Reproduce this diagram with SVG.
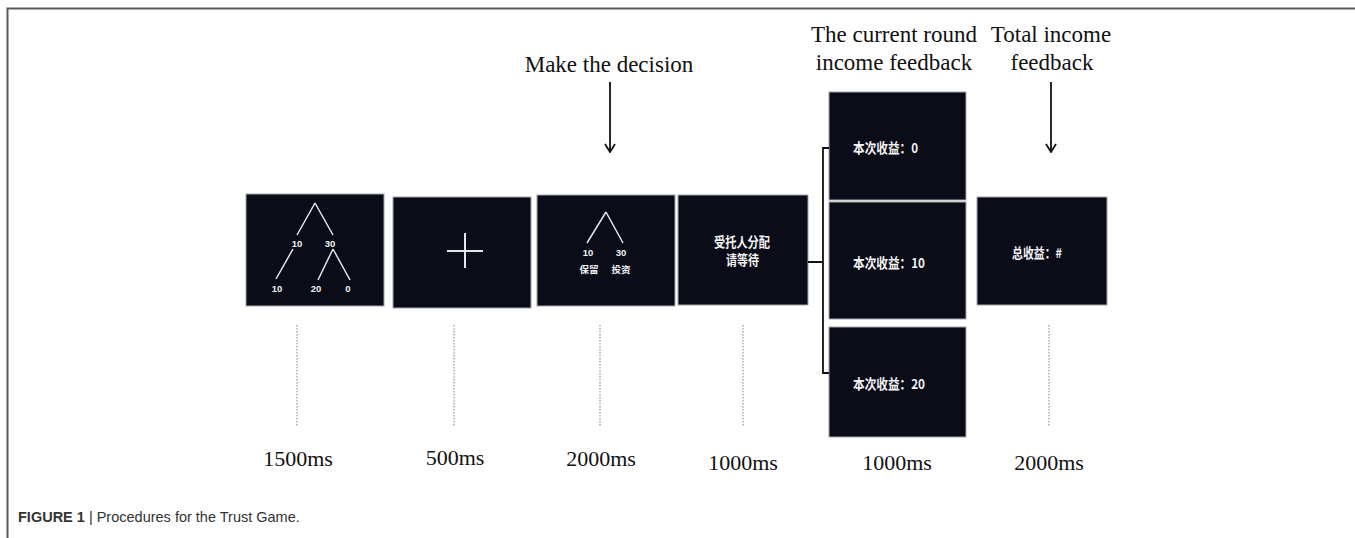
<svg xmlns="http://www.w3.org/2000/svg" width="1355" height="538" viewBox="0 0 1355 538">
<style>
.scr{fill:#0a0c17;stroke:#a4a6ad;stroke-width:1}
.tl{stroke:#e6e6e6;stroke-width:1.5;fill:none}
.num{font-family:"Liberation Sans","Noto Sans CJK SC",sans-serif;font-weight:bold;font-size:9.5px;fill:#f2f2f2;text-anchor:middle}
.cn{font-family:"Noto Sans CJK SC","Liberation Sans",sans-serif;font-weight:bold;font-size:13.5px;fill:#f4f4f4}
.lbl{font-family:"Liberation Serif",serif;font-size:23px;fill:#111;text-anchor:middle}
.ms{font-family:"Liberation Serif",serif;font-size:22px;fill:#111;text-anchor:middle}
.dot{stroke:#aaa;stroke-width:1.5;stroke-dasharray:1.5 1.5}
.conn{stroke:#111;stroke-width:1.8;fill:none}
</style>
<defs>
<marker id="ah" viewBox="0 0 10 12" refX="9" refY="6" markerWidth="10" markerHeight="12" markerUnits="userSpaceOnUse" orient="auto">
<polyline points="1,1 9,6 1,11" fill="none" stroke="#111" stroke-width="1.8"/>
</marker>
</defs>
<rect width="1355" height="538" fill="#fff"/>
<path d="M7.5 538 V8.5 H1355" fill="none" stroke="#5a5a5a" stroke-width="2"/>

<g id="node-tree">
<rect class="scr" x="246" y="194" width="138" height="112"/>
<path class="tl" d="M315 203 L297 235 M315 203 L333 235 M293 249 L276 279 M333 249 L318 280 M333 249 L350 280"/>
<text class="num" x="297" y="247">10</text>
<text class="num" x="330" y="247">30</text>
<text class="num" x="277" y="292">10</text>
<text class="num" x="316" y="292">20</text>
<text class="num" x="348" y="292">0</text>
</g>

<g id="node-fixation">
<rect class="scr" x="393" y="197" width="138" height="111"/>
<path d="M447 251 H483 M465 233 V268" stroke="#e6e6e6" stroke-width="2" fill="none"/>
</g>

<g id="node-decision">
<rect class="scr" x="537" y="195" width="138" height="111"/>
<path class="tl" d="M606 212 L587 243 M606 212 L623 243"/>
<text class="num" x="588" y="256">10</text>
<text class="num" x="621" y="256">30</text>
<text class="num" x="589" y="273" style="font-family:'Noto Sans CJK SC',sans-serif">保留</text>
<text class="num" x="621" y="273" style="font-family:'Noto Sans CJK SC',sans-serif">投资</text>
</g>

<g id="node-wait">
<rect class="scr" x="678" y="195" width="130" height="110"/>
<text class="cn" x="714" y="247" textLength="56" lengthAdjust="spacingAndGlyphs">受托人分配</text>
<text class="cn" x="726" y="265" textLength="33" lengthAdjust="spacingAndGlyphs">请等待</text>
</g>

<g id="node-fb0">
<rect class="scr" x="829" y="92" width="137" height="108"/>
<text class="cn" x="853" y="153" textLength="65" lengthAdjust="spacingAndGlyphs">本次收益：0</text>
</g>
<g id="node-fb10">
<rect class="scr" x="829" y="202" width="137" height="117"/>
<text class="cn" x="853" y="268" textLength="72" lengthAdjust="spacingAndGlyphs">本次收益：10</text>
</g>
<g id="node-fb20">
<rect class="scr" x="829" y="327" width="137" height="110"/>
<text class="cn" x="853" y="389" textLength="72" lengthAdjust="spacingAndGlyphs">本次收益：20</text>
</g>

<g id="node-total">
<rect class="scr" x="977" y="197" width="130" height="108"/>
<text class="cn" x="1012" y="258" textLength="50" lengthAdjust="spacingAndGlyphs">总收益：#</text>
</g>

<g id="connectors">
<path class="conn" d="M808 262 H823 M829 148 H823 V373 H829"/>
<line class="conn" x1="610" y1="82" x2="610" y2="152" marker-end="url(#ah)"/>
<line class="conn" x1="1051" y1="82" x2="1051" y2="152" marker-end="url(#ah)"/>
<line class="dot" x1="297" y1="325" x2="297" y2="426"/>
<line class="dot" x1="454" y1="325" x2="454" y2="426"/>
<line class="dot" x1="600" y1="325" x2="600" y2="426"/>
<line class="dot" x1="743" y1="325" x2="743" y2="426"/>
<line class="dot" x1="1049" y1="325" x2="1049" y2="426"/>
</g>

<g id="labels">
<text class="lbl" x="609" y="72">Make the decision</text>
<text class="lbl" x="894" y="42">The current round</text>
<text class="lbl" x="894" y="70">income feedback</text>
<text class="lbl" x="1051" y="42">Total income</text>
<text class="lbl" x="1052" y="70">feedback</text>
<text class="ms" x="298" y="466">1500ms</text>
<text class="ms" x="455" y="465">500ms</text>
<text class="ms" x="601" y="466">2000ms</text>
<text class="ms" x="743" y="470">1000ms</text>
<text class="ms" x="897" y="470">1000ms</text>
<text class="ms" x="1049" y="470">2000ms</text>
</g>

<text x="18" y="522" style="font-family:'Liberation Sans',sans-serif;font-size:14.5px;fill:#333"><tspan font-weight="bold">FIGURE 1</tspan> | Procedures for the Trust Game.</text>
</svg>
